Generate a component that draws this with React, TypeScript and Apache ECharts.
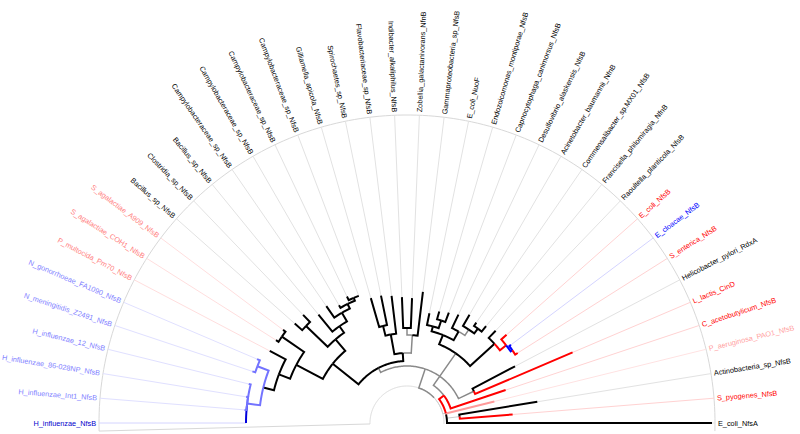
import React, { useEffect, useRef } from "react";
import * as echarts from "echarts";

const leafNames = [
  "H_influenzae_NfsB", "H_influenzae_Int1_NfsB", "H_influenzae_86-028NP_NfsB", "H_influenzae_12_NfsB",
  "N_meningitidis_Z2491_NfsB", "N_gonorrhoeae_FA1090_NfsB", "P_multocida_Pm70_NfsB", "S_agalactiae_COH1_NfsB",
  "S_agalactiae_A909_NfsB", "Bacillus_sp_NfsB", "Clostridia_sp_NfsB", "Bacillus_sp_NfsB",
  "Campylobacteraceae_sp_NfsB", "Campylobacteraceae_sp_NfsB", "Campylobacteraceae_sp_NfsB", "Campylobacteraceae_sp_NfsB",
  "Gilliamella_apicola_NfsB", "Spirochaetes_sp_NfsB", "Flavobacteriaceae_sp_NfsB", "Indibacter_alkaliphilus_NfsB",
  "Zobellia_galactanivorans_NfnB", "Gammaproteobacteria_sp_NfsB", "E_coli_NuoF", "Endozoicomonas_montiporae_NfsB",
  "Capnocytophaga_canimorsus_NfsB", "Desulfovibrio_alaskensis_NfsB", "Acinetobacter_baumannii_NfnB", "Commensalibacter_sp.MX01_NfsB",
  "Francisella_philomiragia_NfnB", "Raoultella_planticola_NfsB", "E_coli_NfsB", "E_cloacae_NfsB",
  "S_enterica_NfsB", "Helicobacter_pylori_RdxA", "L_lactis_CinD", "C_acetobutylicum_NfsB",
  "P_aeruginosa_PAO1_NfsB", "Actinobacteria_sp_NfsB", "S_pyogenes_NfsB", "E_coli_NfsA",
];

// label colour group per leaf
const leafGroup = [
  "B", "c", "c", "c", "c", "c", "p", "p", "p",
  "k", "k", "k", "k", "k", "k", "k", "k", "k", "k", "k", "k", "k", "k", "k", "k", "k", "k", "k", "k", "k",
  "r", "b", "r", "k", "r", "r", "q", "k", "r", "k",
];

// colour of the terminal branch of each leaf
const leafBranch = [
  "B", "c", "c", "c", "c", "c", "k", "k", "k",
  "k", "k", "k", "k", "k", "k", "k", "k", "k", "k", "k", "k", "k", "k", "k", "k", "k", "k", "k", "k", "k",
  "r", "b", "r", "k", "r", "r", "q", "k", "r", "k",
];

// distance of each tip from the centre (tree units)
const leafTip = [
  1.61, 1.63, 1.63, 1.63, 1.63, 1.63, 1.55, 1.55, 1.55,
  1.5, 1.5, 1.4, 1.42, 1.36, 1.4, 1.36, 1.3, 1.3, 1.28, 1.26, 1.25, 1.32,
  1.12, 1.16, 1.18, 1.2, 1.25, 1.22, 1.25, 1.28, 1.33, 1.3, 1.31,
  1.22, 1.8, 1.04, 0.9, 1.32, 1.06, 3.05,
];

// topology: leaves are indices, ")xN" gives an inner node's branch colour and depth
const treeNewick =
  "(((((((7,8)k1.52,(6,((0,1,2,3)c1.61,(4,5)c1.6)k1.48)k1.37)k1.25," +
  "((9,10)k1.4,(11,(12,(13,(14,15)k1.36)k1.33)k1.28)k1.18)k1.1)k0.95," +
  "(((16,17)k1.0,18)k0.9,((19,20)g0.95,21)g0.88)k0.7)g0.62," +
  "(33,34)g0.74)g0.57," +
  "(39,(37,38)l0.53,36,(35," +
  "(((22,(23,24)k1.08)k1.0,(25,(26,(27,28)k1.18)g1.12)k1.05)k0.95," +
  "(29,(30,(31,32)b1.28)r1.26)k1.18)g0.85)r0.46)l0.4)l0.37";

const outerDepth = 3.08;
const labelDepth = 3.11;
const innerDepth = 0.37;
const angleMin = -0.325;
const angleMax = 39.325;

const palette: Record<string, string> = {
  k: "#000000", g: "#8a8a8a", l: "#cccccc", r: "#ff0000", q: "#ff9a9a",
  p: "#ff8080", b: "#0000ff", B: "#0000dd", c: "#7373ff",
};
const leaderPalette: Record<string, string> = {
  k: "#e2e2e2", r: "#ffd2d2", q: "#ffe2e2", p: "#ffdede", b: "#d4d4ff", B: "#d4d4ff", c: "#e0e0ff",
};
const labelPalette: Record<string, string> = {
  k: "#000000", r: "#ff0000", q: "#ff9f9f", p: "#ff8080", b: "#0000ff", B: "#0000cc", c: "#7f7fff",
};

type TNode = { leaf?: number; color: string; depth: number; children?: TNode[]; angle?: number };

function parseTree(s: string): TNode {
  let i = 0;
  const readNum = () => {
    let t = "";
    while (i < s.length && /[0-9.]/.test(s[i])) t += s[i++];
    return parseFloat(t);
  };
  const node = (): TNode => {
    if (s[i] === "(") {
      i++;
      const children = [node()];
      while (s[i] === ",") {
        i++;
        children.push(node());
      }
      i++;
      const color = s[i++];
      const depth = readNum();
      return { children, color, depth };
    }
    const leaf = readNum();
    return { leaf, color: leafBranch[leaf], depth: leafTip[leaf] };
  };
  return node();
}

function layout(n: TNode): number {
  if (n.children) {
    const a = n.children.map(layout);
    n.angle = a.reduce((x, y) => x + y, 0) / a.length;
  } else {
    n.angle = n.leaf as number;
  }
  return n.angle;
}

const colorOrder = (c: string) => (c === "l" ? 0 : c === "g" ? 1 : 2);

export default function App() {
  const ref = useRef<HTMLDivElement>(null);
  useEffect(() => {
    if (!ref.current) return;
    const chart = echarts.init(ref.current, undefined, { renderer: "svg" });
    const root = parseTree(treeNewick);
    layout(root);
    const links: any[] = [];
    const walk = (n: TNode) => {
      (n.children || []).forEach((c) => {
        links.push([n.angle, n.depth, c.angle, c.depth, c.color]);
        walk(c);
      });
    };
    walk(root);
    links.sort((a, b) => colorOrder(a[4]) - colorOrder(b[4]));

    const leaders = leafNames.map((_, i) => [i, leafTip[i], leafGroup[i]]);
    const labels = leafNames.map((name, i) => [i, name, leafGroup[i]]);

    const arcPoints = (api: any, depth: number, a0: number, a1: number) => {
      const pts: number[][] = [];
      const n = Math.max(2, Math.ceil(Math.abs(a1 - a0) * 4) + 1);
      for (let k = 0; k < n; k++) pts.push(api.coord([depth, a0 + ((a1 - a0) * k) / (n - 1)]));
      return pts;
    };

    chart.setOption({
      animation: false,
      polar: { center: [407, 423], radius: 308 },
      angleAxis: {
        type: "value", startAngle: 181.5, clockwise: true,
        min: angleMin, max: angleMin + 78.0,
        axisLine: { show: false }, axisTick: { show: false }, axisLabel: { show: false }, splitLine: { show: false },
      },
      radiusAxis: {
        type: "value", min: 0, max: outerDepth,
        axisLine: { show: false }, axisTick: { show: false }, axisLabel: { show: false }, splitLine: { show: false },
      },
      series: [
        {
          type: "custom", coordinateSystem: "polar", silent: true, z: 1,
          data: [[0]],
          renderItem: (params: any, api: any) => ({
            type: "group",
            children: [
              { type: "polyline", shape: { points: arcPoints(api, outerDepth, angleMin, angleMax) }, style: { stroke: "#d8d8d8", lineWidth: 1, fill: "none" } },
              { type: "polyline", shape: { points: arcPoints(api, innerDepth, angleMin, angleMax) }, style: { stroke: "#dcdcdc", lineWidth: 1, fill: "none" } },
              { type: "polyline", shape: { points: [api.coord([innerDepth, angleMin]), api.coord([outerDepth, angleMin])] }, style: { stroke: "#d8d8d8", lineWidth: 1, fill: "none" } },
            ],
          }),
        },
        {
          type: "custom", coordinateSystem: "polar", silent: true, z: 2,
          data: leaders,
          renderItem: (params: any, api: any) => {
            const i = api.value(0);
            const g = leaders[params.dataIndex][2] as string;
            return {
              type: "polyline",
              shape: { points: [api.coord([api.value(1), i]), api.coord([outerDepth, i])] },
              style: { stroke: leaderPalette[g], lineWidth: 1, fill: "none" },
            };
          },
        },
        {
          type: "custom", coordinateSystem: "polar", silent: true, z: 3,
          data: links,
          renderItem: (params: any, api: any) => {
            const c = links[params.dataIndex][4] as string;
            const pts = arcPoints(api, api.value(1), api.value(0), api.value(2));
            pts.push(api.coord([api.value(3), api.value(2)]));
            return {
              type: "polyline",
              shape: { points: pts },
              style: { stroke: palette[c], lineWidth: c === "l" ? 1 : c === "g" ? 1.5 : 2, fill: "none", lineJoin: "miter" },
            };
          },
        },
        {
          type: "custom", coordinateSystem: "polar", silent: true, z: 4,
          data: labels.map((l) => [l[0]]),
          renderItem: (params: any, api: any) => {
            const i = api.value(0);
            const [, name, g] = labels[params.dataIndex] as [number, string, string];
            const p = api.coord([labelDepth, i]);
            const cs = params.coordSys;
            const th = Math.atan2(cs.cy - p[1], p[0] - cs.cx);
            const left = th > Math.PI / 2;
            return {
              type: "text",
              x: p[0], y: p[1],
              rotation: left ? th - Math.PI : th,
              style: {
                text: name, fill: labelPalette[g],
                font: '7.3px "Liberation Sans", Arial, sans-serif',
                align: left ? "right" : "left", verticalAlign: "middle",
              },
            };
          },
        },
      ],
    });
    return () => chart.dispose();
  }, []);
  return <div ref={ref} style={{ position: "fixed", left: 0, top: 0, width: 800, height: 434, background: "#fff" }} />;
}
